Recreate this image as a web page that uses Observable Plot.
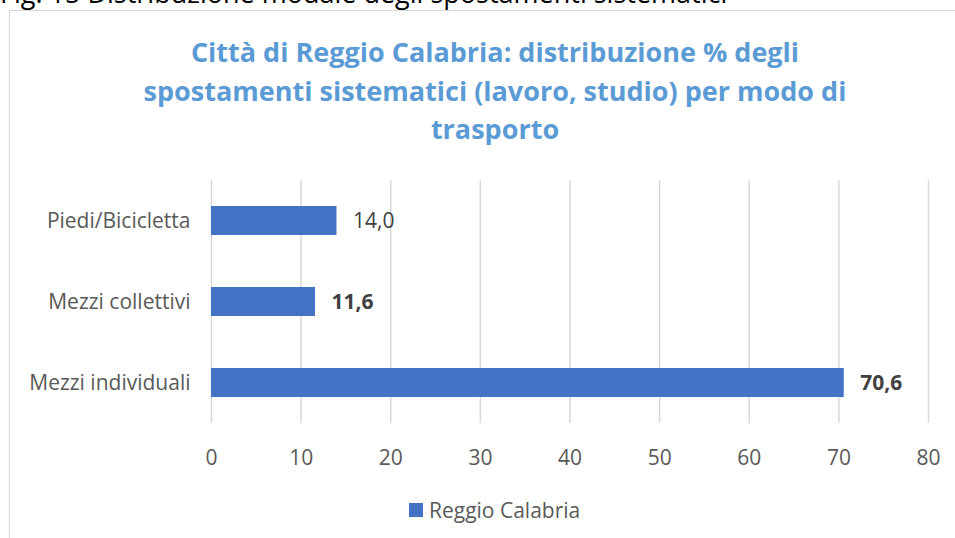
<!DOCTYPE html>
<html>
<head>
<meta charset="utf-8">
<script src="https://cdn.jsdelivr.net/npm/d3@7"></script>
<script src="https://cdn.jsdelivr.net/npm/@observablehq/plot@0.6"></script>
<style>
  html, body { margin: 0; padding: 0; background: #fff; }
  body { width: 955px; height: 538px; position: relative; overflow: hidden; font-family: "Open Sans", Lato, sans-serif; }
  #caption { position: absolute; left: 0; top: -25px; font-size: 27px; line-height: 35px; color: #000; white-space: nowrap; font-family: "Open Sans", Lato, sans-serif; }
  #frame { position: absolute; left: 9px; top: 10px; width: 960px; height: 540px; border: 1.5px solid #d9d9d9; box-sizing: border-box; }
  #title { position: absolute; left: 95px; width: 800px; top: 33px; text-align: center; font-size: 27px; line-height: 38.5px; font-weight: bold; color: #5B9BD5; }
  #chart { position: absolute; left: 0; top: 170px; }
  #legend { position: absolute; top: 496px; left: 409px; font-size: 21px; color: #595959; display: flex; align-items: center; white-space: nowrap; }
  #legend .sw { width: 14px; height: 14px; background: #4472C4; margin-right: 6px; }
</style>
</head>
<body>
<div id="caption">Fig. 15 Distribuzione modale degli spostamenti sistematici</div>
<div id="frame"></div>
<div id="title">Città di Reggio Calabria: distribuzione % degli<br>spostamenti sistematici (lavoro, studio) per modo di<br>trasporto</div>
<div id="chart"></div>
<div id="legend"><div class="sw"></div><span>Reggio Calabria</span></div>
<script>
const categories = ["Piedi/Bicicletta", "Mezzi collettivi", "Mezzi individuali"];
const values = [14.0, 11.6, 70.6];
const boldLabels = [false, true, true];
const xTicks = [0, 10, 20, 30, 40, 50, 60, 70, 80];
const seriesName = "Reggio Calabria";

const data = categories.map((c, i) => ({category: c, value: values[i], bold: boldLabels[i], series: seriesName}));
const fmt = v => v.toFixed(1).replace(".", ",");

const plot = Plot.plot({
  width: 955,
  height: 300,
  marginLeft: 211,
  marginRight: 27,
  marginTop: 10,
  marginBottom: 47,
  style: { fontFamily: "'Open Sans', Lato, sans-serif", fontSize: "21px", color: "#595959", background: "transparent" },
  x: { domain: [0, 80], ticks: xTicks, tickSize: 0, tickPadding: 27, label: null, tickFormat: d => String(d) },
  y: { domain: categories, paddingInner: 0.64, paddingOuter: 0.32, tickSize: 0, tickPadding: 21, label: null },
  marks: [
    Plot.ruleX(xTicks, { stroke: "#d9d9d9", strokeWidth: 1.5 }),
    Plot.barX(data, { x: "value", y: "category", fill: "#4472C4" }),
    Plot.text(data.filter(d => !d.bold), { x: "value", y: "category", text: d => fmt(d.value), textAnchor: "start", dx: 16, fill: "#404040", fontSize: 21 }),
    Plot.text(data.filter(d => d.bold), { x: "value", y: "category", text: d => fmt(d.value), textAnchor: "start", dx: 16, fill: "#404040", fontSize: 21, fontWeight: "bold" })
  ]
});
document.getElementById("chart").appendChild(plot);
</script>
</body>
</html>
